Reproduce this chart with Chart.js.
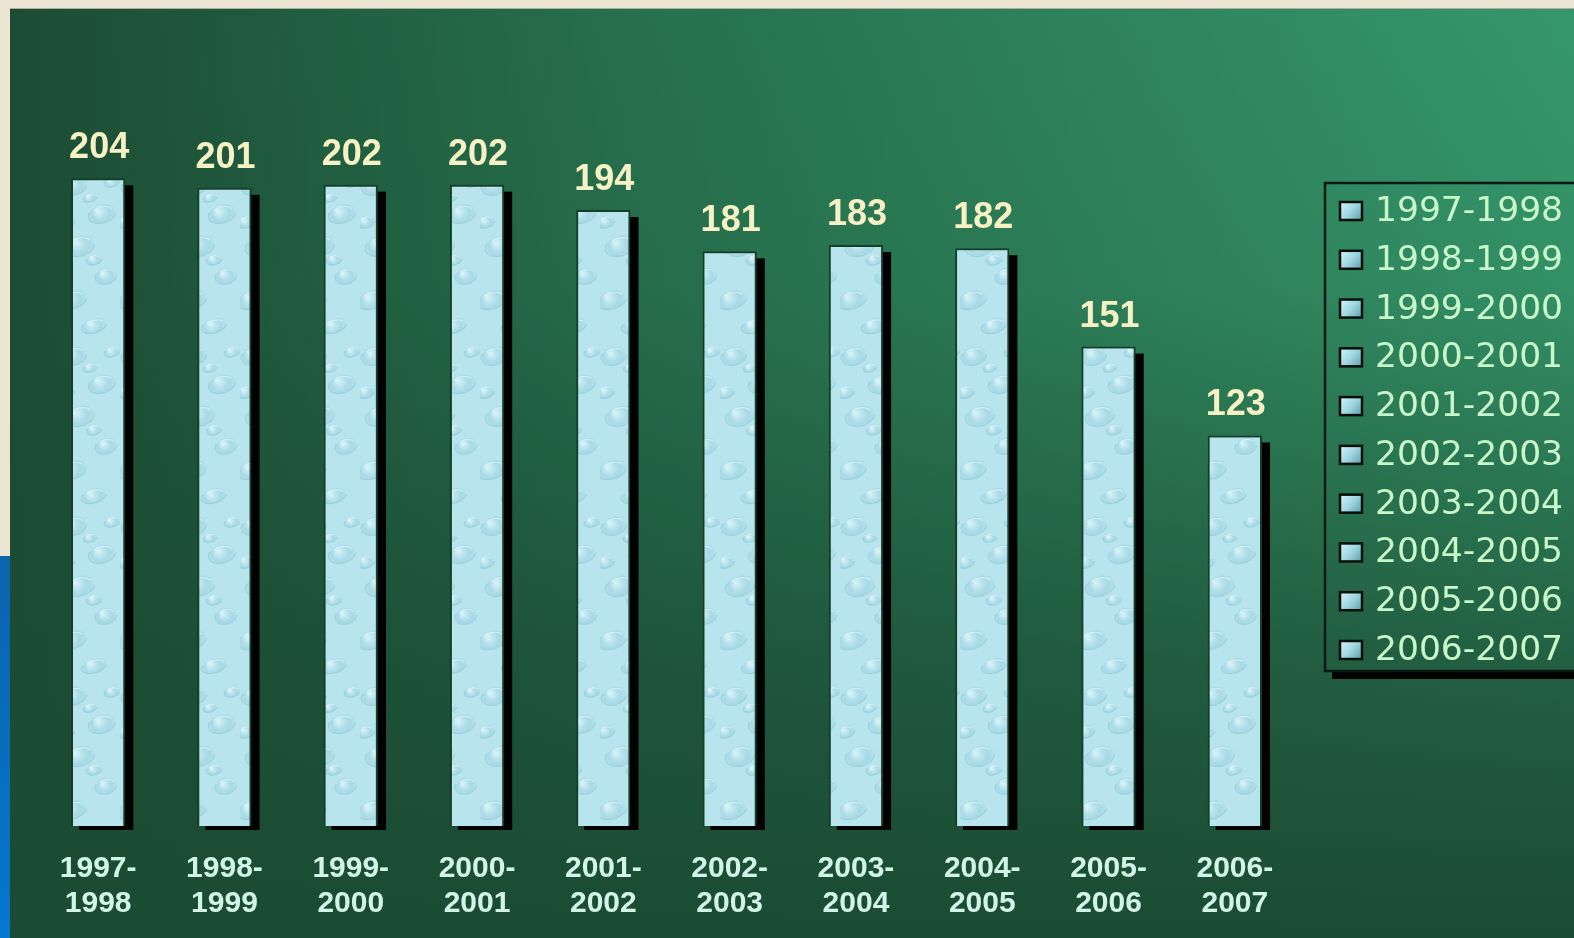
<!DOCTYPE html>
<html>
<head>
<meta charset="utf-8">
<script src="https://cdn.jsdelivr.net/npm/chart.js@4.4.0/dist/chart.umd.min.js"></script>
<style>
  html, body { margin: 0; padding: 0; background: #ece5d4; overflow: hidden; }
  canvas { display: block; }
</style>
</head>
<body>
<canvas id="c" width="1574" height="938" style="width:1574px;height:938px;"></canvas>
<script>
// ---- data ----
const categories = ["1997-1998","1998-1999","1999-2000","2000-2001","2001-2002","2002-2003","2003-2004","2004-2005","2005-2006","2006-2007"];
const tickLabels = [["1997-","1998"],["1998-","1999"],["1999-","2000"],["2000-","2001"],["2001-","2002"],["2002-","2003"],["2003-","2004"],["2004-","2005"],["2005-","2006"],["2006-","2007"]];
const values = [204, 201, 202, 202, 194, 181, 183, 182, 151, 123];

// ---- water-like texture for bars ----
function makeTexture() {
  const off = document.createElement('canvas');
  off.width = 60; off.height = 170;
  const g = off.getContext('2d');
  g.fillStyle = '#b7e4ed';
  g.fillRect(0, 0, off.width, off.height);
  const drops = [[14,16,13,9],[42,44,14,9],[20,76,15,10],[46,106,11,8],[12,130,15,9],[34,156,13,7],[52,12,8,5],[6,52,9,6],[30,28,7,4],[34,90,8,5]];
  drops.forEach(d => {
    const [x, y, rx, ry] = d;
    const gr = g.createRadialGradient(x - rx*0.3, y - ry*0.3, 1, x, y, rx);
    gr.addColorStop(0, 'rgba(225,249,252,0.7)');
    gr.addColorStop(0.6, 'rgba(155,208,224,0.5)');
    gr.addColorStop(1, 'rgba(130,195,212,0.0)');
    g.fillStyle = gr;
    g.beginPath(); g.ellipse(x, y, rx, ry, -0.3, 0, Math.PI*2); g.fill();
    g.strokeStyle = 'rgba(110,175,198,0.3)';
    g.lineWidth = 1.2;
    g.beginPath(); g.ellipse(x, y, rx, ry, -0.3, 0.3, Math.PI*1.2); g.stroke();
    g.strokeStyle = 'rgba(240,253,255,0.5)';
    g.beginPath(); g.ellipse(x, y, rx*0.8, ry*0.8, -0.3, Math.PI*1.3, Math.PI*1.9); g.stroke();
  });
  return off.getContext('2d').createPattern(off, 'repeat');
}
const texture = makeTexture();

// ---- background plugin ----
const bgPlugin = {
  id: 'bg',
  beforeDraw(chart) {
    const ctx = chart.ctx;
    const W = chart.width, H = chart.height;
    ctx.save();
    ctx.fillStyle = '#ece5d4';
    ctx.fillRect(0, 0, W, H);
    const blue = ctx.createLinearGradient(0, 556, 0, H);
    blue.addColorStop(0, '#0a63ad');
    blue.addColorStop(1, '#0478cf');
    ctx.fillStyle = blue;
    ctx.fillRect(0, 556, 10, H - 556);
    const hg = ctx.createLinearGradient(10, 0, W, 0);
    hg.addColorStop(0, '#1c4c34');
    hg.addColorStop(0.4, '#26704d');
    hg.addColorStop(1, '#36976b');
    ctx.fillStyle = hg;
    ctx.fillRect(10, 9, W - 10, H - 9);
    const vg = ctx.createLinearGradient(0, 9, 0, H);
    vg.addColorStop(0, 'rgba(27,75,51,0)');
    vg.addColorStop(0.3, 'rgba(27,75,51,0.1)');
    vg.addColorStop(0.7, 'rgba(27,75,51,0.72)');
    vg.addColorStop(1, 'rgba(27,75,51,1)');
    ctx.fillStyle = vg;
    ctx.fillRect(10, 9, W - 10, H - 9);
    ctx.fillStyle = 'rgba(60,70,60,0.35)';
    ctx.fillRect(10, 8, W - 10, 1);
    ctx.restore();
  }
};

// ---- bar shadow plugin ----
const shadowPlugin = {
  id: 'barShadow',
  beforeDatasetsDraw(chart) {
    const ctx = chart.ctx;
    ctx.save();
    ctx.fillStyle = '#000';
    chart.getDatasetMeta(0).data.forEach(bar => {
      const w = bar.width;
      const left = bar.x - w / 2;
      ctx.fillRect(left + 8, bar.y + 7, w, bar.base - bar.y - 3);
    });
    ctx.restore();
  }
};

// ---- value labels ----
const valuePlugin = {
  id: 'values',
  afterDatasetsDraw(chart) {
    const ctx = chart.ctx;
    const ds = chart.data.datasets[0];
    ctx.save();
    ctx.font = 'bold 36px "Liberation Sans", Arial, sans-serif';
    ctx.fillStyle = '#f6f2c6';
    ctx.textAlign = 'center';
    ctx.textBaseline = 'alphabetic';
    chart.getDatasetMeta(0).data.forEach((bar, i) => {
      ctx.fillText(String(ds.data[i]), bar.x + 1, bar.y - 20);
    });
    ctx.restore();
  }
};

// ---- legend box ----
const legendPlugin = {
  id: 'boxLegend',
  afterDraw(chart) {
    const ctx = chart.ctx;
    const x0 = 1325, y0 = 183, y1 = 671, x1 = 1590;
    ctx.save();
    ctx.fillStyle = '#000';
    ctx.fillRect(x0 + 7, y1, x1 - x0, 8);
    ctx.strokeStyle = '#0a1a10';
    ctx.lineWidth = 2.5;
    ctx.strokeRect(x0, y0, x1 - x0, y1 - y0);
    ctx.font = '34.5px "DejaVu Sans", sans-serif';
    ctx.textBaseline = 'middle';
    ctx.textAlign = 'left';
    const first = 211, last = 650;
    const step = (last - first) / (categories.length - 1);
    categories.forEach((c, i) => {
      const cy = first + i * step;
      const ig = ctx.createLinearGradient(1340, cy - 9, 1362, cy + 9);
      ig.addColorStop(0, '#d4f6fa');
      ig.addColorStop(0.5, '#9fd6e2');
      ig.addColorStop(1, '#5f9eaa');
      ctx.fillStyle = ig;
      ctx.fillRect(1340, cy - 9, 22, 18);
      ctx.strokeStyle = '#0a0f0a';
      ctx.lineWidth = 2.5;
      ctx.strokeRect(1340, cy - 9, 22, 18);
      ctx.fillStyle = '#c8f7c9';
      ctx.fillText(c, 1375, cy + 1);
    });
    ctx.restore();
  }
};

new Chart(document.getElementById('c'), {
  type: 'bar',
  data: {
    labels: tickLabels,
    datasets: [{
      label: 'Values',
      data: values,
      backgroundColor: texture,
      borderColor: '#173d29',
      borderWidth: 2,
      barPercentage: 0.43,
      categoryPercentage: 1.0
    }]
  },
  options: {
    responsive: false,
    animation: false,
    devicePixelRatio: 1,
    layout: { padding: { left: 35, right: 276, top: 64, bottom: 0 } },
    plugins: {
      legend: { display: false },
      tooltip: { enabled: false },
      title: { display: false }
    },
    scales: {
      x: {
        offset: true,
        grid: { display: false, drawTicks: false },
        border: { display: false },
        afterFit(scale) { scale.height = 112; },
        ticks: {
          color: '#d2f5ea',
          font: { family: '"Liberation Sans", Arial, sans-serif', size: 30, weight: 'bold', lineHeight: 1.14 },
          padding: 26,
          maxRotation: 0,
          autoSkip: false
        }
      },
      y: {
        display: false,
        min: 0,
        max: 240
      }
    }
  },
  plugins: [bgPlugin, shadowPlugin, valuePlugin, legendPlugin]
});
</script>
</body>
</html>
